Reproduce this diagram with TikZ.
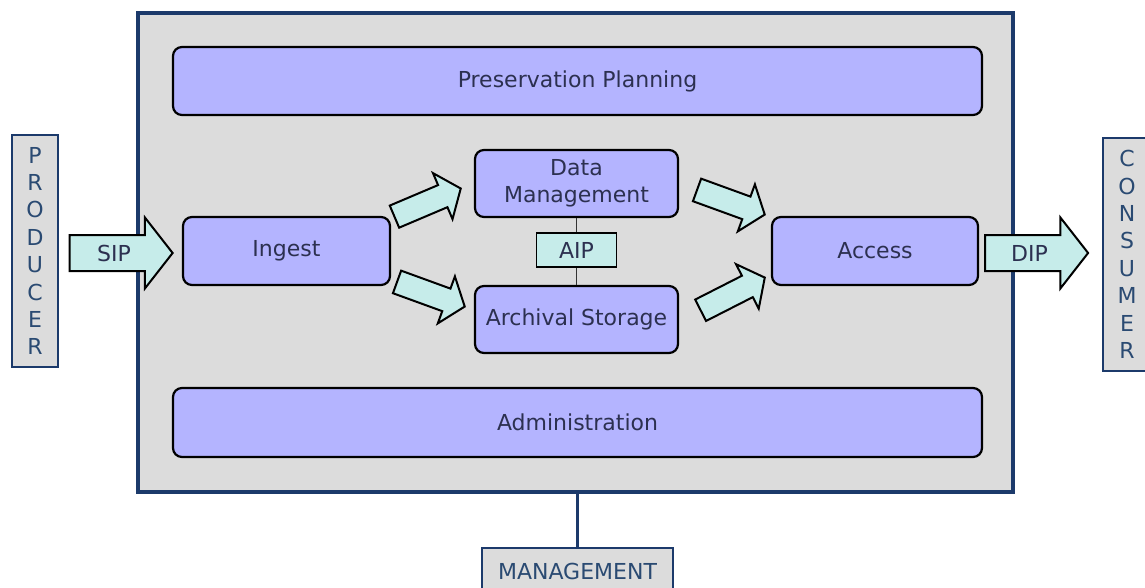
\documentclass[tikz,border=0pt]{standalone}
\usepackage{fontspec}
\setmainfont{DejaVu Sans}
\usetikzlibrary{calc,shapes.arrows}
\definecolor{oaisgray}{HTML}{DCDCDC}
\definecolor{oaisnavy}{HTML}{1C3A6B}
\definecolor{boxblue}{HTML}{B4B4FF}
\definecolor{pkgcyan}{HTML}{C6ECEA}
\definecolor{boxtext}{HTML}{2C3050}
\definecolor{lettertext}{HTML}{2A4A72}
\def\boxfont{\fontsize{22}{27}\selectfont}
\def\letterfont{\fontsize{22}{27.4}\selectfont}

\tikzset{
	module/.style={draw=black, line width=2.2pt, fill=boxblue, rounded corners=9pt, text=boxtext, font=\boxfont, align=center, inner sep=0pt},
	entity/.style={draw=oaisnavy, line width=2pt, fill=oaisgray, text=lettertext, font=\letterfont, align=center, inner sep=0pt},
	pkgarrow/.style={single arrow, draw=black, line width=2pt, fill=pkgcyan, text=boxtext, font=\boxfont, single arrow head extend=17.5pt, single arrow tip angle=104, text height=16pt, text depth=0pt, inner ysep=9pt, inner xsep=4pt, minimum height=103pt},
	flow/.style={single arrow, draw=black, line width=2pt, fill=pkgcyan, single arrow head extend=13pt, single arrow tip angle=104, text height=0pt, text depth=0pt, text width=0pt, inner ysep=11pt, inner xsep=0pt, minimum height=72pt}
}

\begin{document}
\begin{tikzpicture}[x=1pt, y=-1pt]
		%%%%% START %%%%%
		\useasboundingbox[fill=white] (0,0) rectangle (1145,588);
		
		\node[draw=oaisnavy, line width=3.5pt, fill=oaisgray, minimum width=875pt, minimum height=479pt, inner sep=0pt] (oais) at (575.5,252.5) {};
		
		\node[module, minimum width=809pt, minimum height=68pt] (plan) at (577.5,81) {Preservation Planning};
		\node[module, minimum width=809pt, minimum height=69pt] (admin) at (577.5,422.5) {Administration};
		
		\node[module, minimum width=207pt, minimum height=68pt] (ingest) at (286.5,251) {Ingest};
		\node[module, minimum width=206pt, minimum height=68pt] (access) at (875,251) {Access};
		\node[module, minimum width=203pt, minimum height=67pt] (datamgmt) at (576.5,183.5) {Data\\Management};
		\node[module, minimum width=203pt, minimum height=67pt] (archive) at (576.5,319.5) {Archival Storage};
		
		\node[draw=black, line width=1.8pt, fill=pkgcyan, text=boxtext, font=\boxfont, minimum width=80pt, minimum height=34pt, inner sep=0pt] (aip) at (576.5,250) {AIP};
		\draw[line width=1.5pt, color=black!80] (datamgmt) -- (aip) -- (archive);
		
		\node[entity, minimum width=46pt, minimum height=232pt] (producer) at (35,251) {P\\R\\O\\D\\U\\C\\E\\R};
		\node[entity, minimum width=48pt, minimum height=233pt] (consumer) at (1127,254.5) {C\\O\\N\\S\\U\\M\\E\\R};
		\node[entity, minimum width=191pt, minimum height=47pt] (mgmt) at (577.5,571.5) {MANAGEMENT};
		\draw[draw=oaisnavy, line width=3.5pt] (oais.south -| mgmt.north) -- (mgmt.north);
		
		\node[pkgarrow, anchor=tip] (sip) at ($(ingest.west)+(-8,2)$) {SIP};
		\node[pkgarrow, anchor=tail] (dip) at ($(access.east)+(5,2)$) {DIP};
		
		\node[flow, rotate=23, anchor=tip] (toDM) at ($(datamgmt.west)+(-12,4.5)$) {};
		\node[flow, rotate=-20, anchor=tip] (toAS) at ($(archive.west)+(-8,-12.5)$) {};
		\node[flow, rotate=-20, anchor=tip] (fromDM) at ($(access.west)+(-5,-36)$) {};
		\node[flow, rotate=27, anchor=tip] (fromAS) at ($(access.west)+(-5,26)$) {};
		
		%%%%% END %%%%%
\end{tikzpicture}
\end{document}
